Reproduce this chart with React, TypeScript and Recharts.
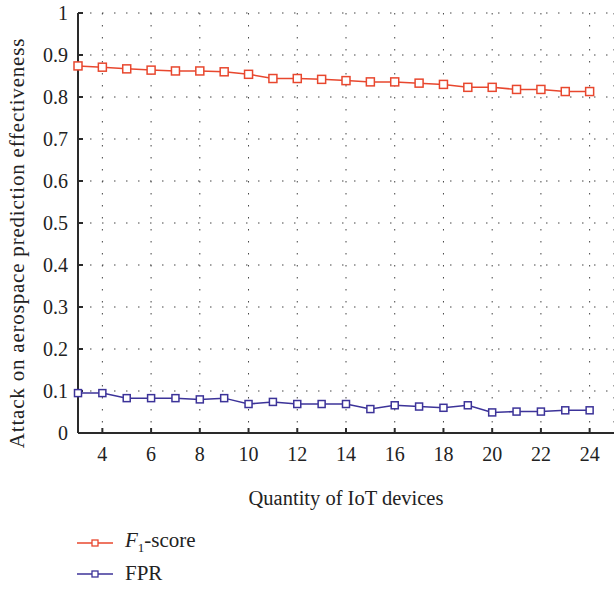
import { LineChart, Line, XAxis, YAxis, CartesianGrid } from 'recharts'

const devices = [3, 4, 5, 6, 7, 8, 9, 10, 11, 12, 13, 14, 15, 16, 17, 18, 19, 20, 21, 22, 23, 24]
const f1Score = [0.874, 0.871, 0.867, 0.864, 0.862, 0.862, 0.86, 0.854, 0.844, 0.844, 0.842, 0.839, 0.836, 0.836, 0.833, 0.83, 0.823, 0.823, 0.818, 0.818, 0.813, 0.813]
const fpr = [0.095, 0.095, 0.083, 0.083, 0.083, 0.08, 0.083, 0.069, 0.074, 0.069, 0.069, 0.069, 0.057, 0.066, 0.063, 0.06, 0.066, 0.049, 0.051, 0.051, 0.054, 0.054]
const xTicks = [4, 6, 8, 10, 12, 14, 16, 18, 20, 22, 24]
const yTicks = [0, 0.1, 0.2, 0.3, 0.4, 0.5, 0.6, 0.7, 0.8, 0.9, 1]

const F1_COLOR = '#E8472E'
const FPR_COLOR = '#3C3399'
const AXIS = '#2a2a2a'
const FONT = '"Liberation Serif", "DejaVu Serif", serif'

const data = devices.map((d, i) => ({ d, f1: f1Score[i], fpr: fpr[i] }))

const squareDot = (color: string, size: number) => (props: any) => {
  const { cx, cy, index } = props
  return (
    <rect key={index} x={cx - size / 2} y={cy - size / 2} width={size} height={size}
      fill="#fff" stroke={color} strokeWidth={1.5} />
  )
}

// rotated y title, sits a bit below the plot centre like the original
const YLabel = () => (
  <text x={24} y={243} transform="rotate(-90, 24, 243)" textAnchor="middle"
    fontFamily={FONT} fontSize={21} letterSpacing={0.8} fill="#222">
    Attack on aerospace prediction effectiveness
  </text>
)

function LegendRow({ color, children }: { color: string, children: any }) {
  return (
    <div style={{ display: 'flex', alignItems: 'center', height: 31 }}>
      <svg width={48} height={12} style={{ marginLeft: 77 }}>
        <line x1={0} x2={36} y1={6} y2={6} stroke={color} strokeWidth={1.5} />
        <rect x={15} y={3} width={6} height={6} fill="#fff" stroke={color} strokeWidth={1.3} />
      </svg>
      <span style={{ fontFamily: FONT, fontSize: 21, color: '#222' }}>{children}</span>
    </div>
  )
}

export default function App() {
  return (
    <div style={{ position: 'relative', width: 614, height: 591, background: '#fff', overflow: 'hidden' }}>
      <style>{`body{margin:0}`}</style>
      <LineChart width={614} height={591} data={data} margin={{ top: 13, right: 0, left: 0, bottom: 88 }}>
        <CartesianGrid stroke="#444" strokeDasharray="1.5 10.5" strokeWidth={1} />
        <XAxis dataKey="d" type="number" domain={[3, 25]} ticks={xTicks} height={70}
          stroke={AXIS} strokeWidth={2} tickSize={-5} tickMargin={19}
          tick={{ fontFamily: FONT, fontSize: 20, fill: '#222' }}
          label={{ value: 'Quantity of IoT devices', position: 'insideBottom', offset: -2, fontFamily: FONT, fontSize: 20.5, fill: '#222' }} />
        <XAxis xAxisId="top" dataKey="d" type="number" domain={[3, 25]} ticks={xTicks} orientation="top" height={0}
          stroke={AXIS} strokeWidth={2} tickSize={-5} tick={false} />
        <YAxis domain={[0, 1]} ticks={yTicks} width={78} interval={0}
          stroke={AXIS} strokeWidth={2} tickSize={-5} tickMargin={15}
          tick={{ fontFamily: FONT, fontSize: 20, fill: '#222' }}
          label={<YLabel />} />
        <YAxis yAxisId="right" orientation="right" domain={[0, 1]} ticks={yTicks} width={0} interval={0}
          stroke={AXIS} strokeWidth={2} tickSize={-5} tick={false} />
        <Line dataKey="f1" stroke={F1_COLOR} strokeWidth={1.5} dot={squareDot(F1_COLOR, 8)} isAnimationActive={false} />
        <Line dataKey="fpr" stroke={FPR_COLOR} strokeWidth={1.5} dot={squareDot(FPR_COLOR, 7)} isAnimationActive={false} />
      </LineChart>
      <div style={{ position: 'absolute', left: 0, top: 527 }}>
        <LegendRow color={F1_COLOR}><i>F</i><sub style={{ fontSize: 13 }}>1</sub>-score</LegendRow>
        <LegendRow color={FPR_COLOR}>FPR</LegendRow>
      </div>
    </div>
  )
}
